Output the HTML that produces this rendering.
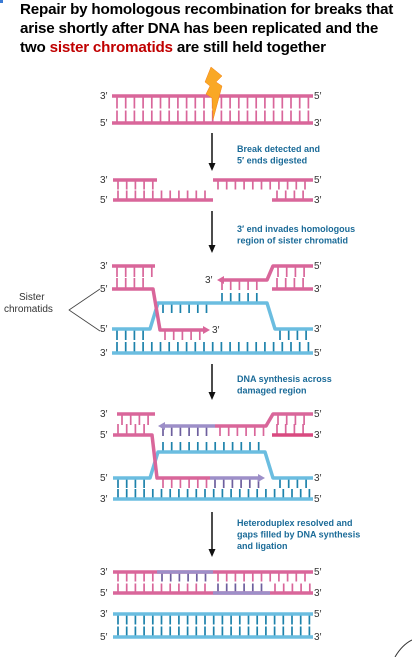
<!DOCTYPE html>
<html><head><meta charset="utf-8"><style>
body{margin:0;background:#fff;}
#wrap{position:relative;width:412px;height:657px;overflow:hidden;font-family:"Liberation Sans",sans-serif;}
.title{position:absolute;left:20px;top:0px;font-weight:bold;font-size:15.2px;line-height:19px;color:#000;white-space:nowrap;letter-spacing:-0.2px;}
</style></head><body>
<div id="wrap">
<div class="title">Repair by homologous recombination for breaks that<br>arise shortly after DNA has been replicated and the<br>two <span style="color:#c00000">sister chromatids</span> are still held together</div>
<svg id="svg" width="412" height="657" style="position:absolute;left:0;top:0"></svg>
</div>
<script>
const NS="http://www.w3.org/2000/svg";
const svg=document.getElementById('svg');
const PINK="#d9669a",BLUE="#6bbde0",PURP="#9d8fc8",PR="#d9669a",BR="#1d82ab",PUR="#6d5f9e";
function mk(tag,at,name){const e=document.createElementNS(NS,tag);for(const k in at)e.setAttribute(k,at[k]);


svg.appendChild(e);return e;}
function line(x1,y1,x2,y2,c,w,name){return mk('line',{x1,y1,x2,y2,stroke:c,'stroke-width':w},name);}
function poly(pts,c,w,name){return mk('polyline',{points:pts.map(p=>p.join(',')).join(' '),fill:'none',stroke:c,'stroke-width':w,'stroke-linejoin':'round'},name);}
function rungs(x1,x2,y,dir,len,c){for(let x=x1+5;x<=x2-2;x+=8.7){line(x,y,x,y+dir*len,c,1.7,'base-pair');}}
function txt(x,y,s,size,c,bold,name){const t=mk('text',{x,y,'font-size':size,fill:c,'font-family':'"Liberation Sans",sans-serif','font-weight':bold?'bold':'normal'},name);t.textContent=s;return t;}
function arrowHead(x,y,dir,c){mk('polygon',{points:`${x},${y} ${x-dir*7},${y-4} ${x-dir*7},${y+4}`,fill:c},'arrowhead');}
function downArrow(x,y1,y2){line(x,y1,x,y2-6,'#111',1.5,'step-arrow');mk('polygon',{points:`${x-3.5},${y2-8} ${x+3.5},${y2-8} ${x},${y2}`,fill:'#111'},'step-arrow-head');}
function lbl(x,y,s){txt(x,y,s,10,'#333',false,'strand-end-label');}
function note(x,y,lines){lines.forEach((l,i)=>txt(x,y+i*11.5,l,9,'#1b6b98',true,'step-caption'));}
mk('rect',{x:0,y:0,width:3,height:3,fill:'#3a7bd5'},'corner-mark');
const SW=3.5;
// Stage 1
rungs(112,313,96,1,12.5,PR);rungs(112,313,123,-1,12.5,PR);
line(112,96,313,96,PINK,SW,'strand');line(112,123,313,123,PINK,SW,'strand');
lbl(100,99,"3′");lbl(100,126,"5′");lbl(314,99,"5′");lbl(314,126,"3′");
mk('polygon',{points:"211,67 222,76 216,82 222,86 213,120 212,98 206,94 210,86 205,82",fill:'#f9a825',stroke:'#f57f17','stroke-width':0.5},'lightning-bolt');
downArrow(212,133,171);note(237,152,["Break detected and","5′ ends digested"]);
// Stage 2
rungs(113,157,180,1,9.5,PR);rungs(213,313,180,1,9.5,PR);rungs(113,213,200,-1,9.5,PR);rungs(272,313,200,-1,9.5,PR);
line(113,180,157,180,PINK,SW,'strand');line(213,180,313,180,PINK,SW,'strand');
line(113,200,213,200,PINK,SW,'strand');line(272,200,313,200,PINK,SW,'strand');
lbl(100,183,"3′");lbl(100,203,"5′");lbl(314,183,"5′");lbl(314,203,"3′");
downArrow(212,211,253);note(237,232,["3′ end invades homologous","region of sister chromatid"]);
// Stage 3
rungs(112,155,266,1,11,PR);rungs(112,153,289,-1,11,PR);
rungs(273,313,266,1,11,PR);rungs(272,313,289,-1,11,PR);rungs(217,267,280,1,10,PR);
rungs(158,210,303,1,10,BR);rungs(217,267,303,-1,10,BR);
rungs(112,150,329,1,11,BR);rungs(275,313,329,1,11,BR);rungs(160,207,330,1,10,PR);
rungs(112,313,353,-1,11,BR);
line(112,266,155,266,PINK,SW,'strand');
poly([[112,329],[150,329],[158,303],[267,303],[275,329],[313,329]],BLUE,SW,'strand');
line(112,353,313,353,BLUE,SW,'strand');
poly([[112,289],[153,289],[160,330],[203,330]],PINK,SW,'strand');arrowHead(210,330,1,PINK);
poly([[313,266],[273,266],[267,280],[224,280]],PINK,SW,'strand');arrowHead(217,280,-1,PINK);
line(272,289,313,289,PINK,SW,'strand');
lbl(100,269,"3′");lbl(100,292,"5′");lbl(100,332,"5′");lbl(100,356,"3′");
lbl(314,269,"5′");lbl(314,292,"3′");lbl(314,332,"3′");lbl(314,356,"5′");
lbl(205,283,"3′");lbl(212,333,"3′");
txt(19,300,"Sister",10,'#333',false,'sister-chromatids-label');txt(4,312,"chromatids",10,'#333',false,'sister-chromatids-label');
poly([[100,289],[69,310],[100,331]],'#444',0.8,'bracket-lines');
downArrow(212,364,400);note(237,382,["DNA synthesis across","damaged region"]);
// Stage 4
rungs(117,155,414,1,11,PR);rungs(113,152,435,-1,11,PR);rungs(273,313,414,1,11,PR);rungs(272,313,435,-1,11,PR);
rungs(158,215,426,1,10,PUR);rungs(215,266,426,1,10,PR);
rungs(158,265,452,-1,10,BR);rungs(113,150,478,1,10,BR);rungs(275,313,478,1,10,BR);
rungs(158,210,478,1,10,PR);rungs(210,265,478,1,10,PUR);
rungs(113,313,499,-1,10,BR);
line(117,414,155,414,PINK,SW,'strand');
poly([[113,478],[150,478],[158,452],[265,452],[273,478],[313,478]],BLUE,SW,'strand');
line(113,499,313,499,BLUE,SW,'strand');
poly([[113,435],[152,435],[157,478],[210,478]],PINK,SW,'strand');
line(210,478,258,478,PURP,SW,'strand');arrowHead(265,478,1,PURP);
poly([[313,414],[273,414],[266,426],[215,426]],PINK,SW,'strand');
line(215,426,165,426,PURP,SW,'strand');arrowHead(158,426,-1,PURP);
line(272,435,313,435,'#d94a80',SW,'strand');
lbl(100,417,"3′");lbl(100,438,"5′");lbl(100,481,"5′");lbl(100,502,"3′");
lbl(314,417,"5′");lbl(314,438,"3′");lbl(314,481,"3′");lbl(314,502,"5′");
downArrow(212,512,557);note(237,526,["Heteroduplex resolved and","gaps filled by DNA synthesis","and ligation"]);
// Stage 5
rungs(113,157,572,1,9.5,PR);rungs(157,213,572,1,9.5,PUR);rungs(213,313,572,1,9.5,PR);
rungs(113,213,593,-1,9.5,PR);rungs(213,270,593,-1,9.5,PUR);rungs(270,313,593,-1,9.5,PR);
rungs(113,313,614,1,10.5,BR);rungs(113,313,637,-1,10.5,BR);
line(113,572,313,572,PINK,SW,'strand');line(157,572,213,572,PURP,SW,'strand');
line(113,593,313,593,PINK,SW,'strand');line(213,593,270,593,PURP,SW,'strand');
line(113,614,313,614,BLUE,SW,'strand');line(113,637,313,637,BLUE,SW,'strand');
lbl(100,575,"3′");lbl(100,596,"5′");lbl(100,617,"3′");lbl(100,640,"5′");
lbl(314,575,"5′");lbl(314,596,"3′");lbl(314,617,"5′");lbl(314,640,"3′");
mk('path',{d:'M395,657 Q402,645 412,640',fill:'none',stroke:'#333','stroke-width':1},'page-curl');
</script>
</body></html>
